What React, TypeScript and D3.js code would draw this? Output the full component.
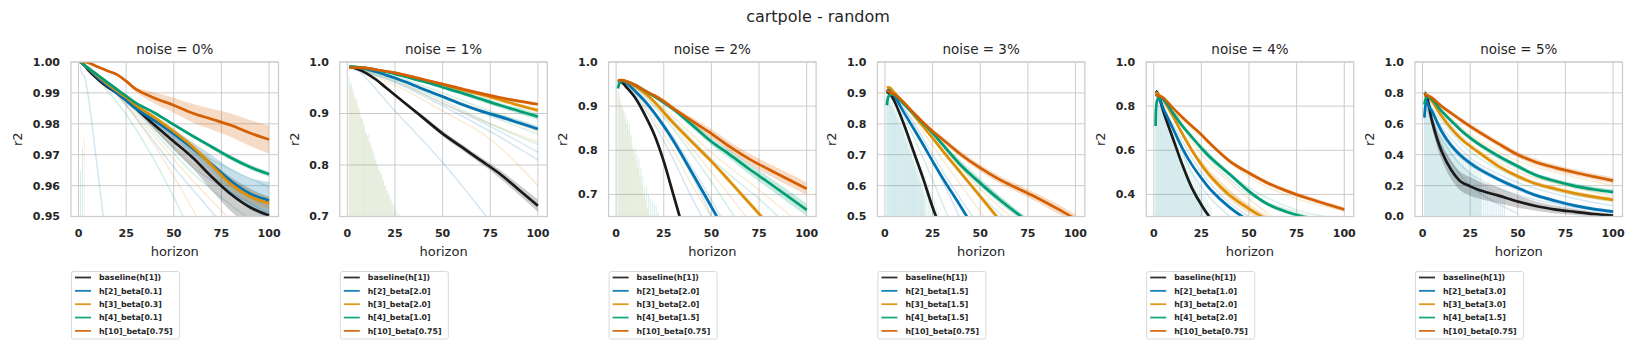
import React, { useEffect, useRef } from 'react';
import * as d3 from 'd3';

const HORIZON = [1, 2, 3, 5, 10, 15, 20, 25, 30, 40, 50, 60, 70, 80, 90, 100];
const SERIES_COLORS = ['#1a1a1a', '#0173b2', '#de8f05', '#029e73', '#d55e00'];
const X_TICKS = [0, 25, 50, 75, 100];

// ---- noise = 0% ----
const noise0Labels = ['baseline(h[1])', 'h[2]_beta[0.1]', 'h[3]_beta[0.3]', 'h[4]_beta[0.1]', 'h[10]_beta[0.75]'];
const noise0Ticks = [0.95, 0.96, 0.97, 0.98, 0.99, 1.0];
const noise0Mean = [
  [1.0, 0.9995, 0.999, 0.9975, 0.9945, 0.992, 0.990, 0.9877, 0.985, 0.9795, 0.9743, 0.969, 0.9628, 0.9572, 0.953, 0.9503],
  [1.0, 0.9995, 0.999, 0.998, 0.995, 0.9925, 0.990, 0.9875, 0.985, 0.981, 0.9767, 0.972, 0.9668, 0.9615, 0.9574, 0.9552],
  [1.0, 0.9995, 0.999, 0.998, 0.9955, 0.993, 0.9907, 0.9885, 0.986, 0.982, 0.9775, 0.9725, 0.9665, 0.9605, 0.9565, 0.9543],
  [1.0, 0.9995, 0.999, 0.998, 0.9958, 0.9935, 0.9912, 0.989, 0.9868, 0.9835, 0.9797, 0.976, 0.9725, 0.969, 0.966, 0.9637],
  [1.0, 1.0, 1.0, 0.9998, 0.9985, 0.9972, 0.996, 0.9938, 0.9912, 0.9883, 0.986, 0.9834, 0.9815, 0.9795, 0.977, 0.9749],
];
const noise0Spread = [
  [0, 0, 0, 0.0001, 0.0002, 0.0003, 0.0004, 0.0006, 0.0008, 0.0015, 0.0025, 0.0035, 0.0045, 0.0055, 0.006, 0.006],
  [0, 0, 0, 0.0001, 0.0002, 0.0003, 0.0004, 0.0005, 0.0006, 0.001, 0.0015, 0.002, 0.003, 0.004, 0.005, 0.006],
  [0, 0, 0, 0.0001, 0.0002, 0.0003, 0.0004, 0.0005, 0.0006, 0.0008, 0.001, 0.0012, 0.0015, 0.0018, 0.002, 0.002],
  [0, 0, 0, 0.0001, 0.0001, 0.0002, 0.0002, 0.0003, 0.0003, 0.0004, 0.0005, 0.0006, 0.0007, 0.0008, 0.0008, 0.0008],
  [0, 0, 0, 0.0001, 0.0002, 0.0003, 0.0004, 0.0005, 0.0008, 0.0018, 0.0024, 0.003, 0.0034, 0.0038, 0.0042, 0.0045],
];
const noise0Faint = [
  { c: 1, pts: [[1, 0.9985], [2, 0.996], [3, 0.9955], [4, 0.993], [6, 0.985], [9, 0.97], [13, 0.95]] },
  { c: 3, pts: [[1, 1], [5, 0.998], [12, 0.993], [25, 0.983], [40, 0.968], [55, 0.95]] },
  { c: 2, pts: [[1, 1], [10, 0.996], [25, 0.986], [45, 0.968], [62, 0.95]] },
  { c: 1, pts: [[1, 1], [10, 0.996], [25, 0.986], [50, 0.966], [72, 0.95]] },
  { c: 2, pts: [[1, 1], [10, 0.996], [30, 0.983], [55, 0.965], [78, 0.95]] },
  { c: 3, pts: [[1, 1], [10, 0.996], [30, 0.984], [60, 0.964], [88, 0.95]] },
  { c: 1, pts: [[1, 1], [10, 0.996], [30, 0.985], [60, 0.966], [100, 0.951]] },
  { c: 3, pts: [[1, 1], [10, 0.996], [30, 0.987], [60, 0.972], [100, 0.9595]] },
  { c: 2, pts: [[1, 1], [10, 0.996], [30, 0.985], [60, 0.967], [100, 0.953]] },
];
const noise0Spikes = [
  { c: 3, from: 1, peaks: [0.965] },
  { c: 1, from: 2, peaks: [0.9725] },
  { c: 2, from: 3, peaks: [0.9755] },
];

// ---- noise = 1% ----
const noise1Labels = ['baseline(h[1])', 'h[2]_beta[2.0]', 'h[3]_beta[2.0]', 'h[4]_beta[1.0]', 'h[10]_beta[0.75]'];
const noise1Ticks = [0.7, 0.8, 0.9, 1.0];
const noise1Mean = [
  [0.990, 0.9895, 0.989, 0.987, 0.978, 0.966, 0.951, 0.936, 0.921, 0.891, 0.861, 0.835, 0.809, 0.783, 0.752, 0.721],
  [0.990, 0.990, 0.990, 0.989, 0.986, 0.981, 0.975, 0.969, 0.962, 0.947, 0.933, 0.918, 0.905, 0.894, 0.882, 0.870],
  [0.990, 0.990, 0.990, 0.990, 0.988, 0.985, 0.982, 0.979, 0.974, 0.965, 0.956, 0.946, 0.937, 0.927, 0.916, 0.906],
  [0.991, 0.991, 0.991, 0.990, 0.988, 0.985, 0.981, 0.977, 0.972, 0.962, 0.951, 0.940, 0.928, 0.916, 0.905, 0.894],
  [0.989, 0.989, 0.989, 0.989, 0.988, 0.985, 0.982, 0.979, 0.975, 0.966, 0.957, 0.948, 0.939, 0.931, 0.924, 0.918],
];
const noise1Spread = [
  [0, 0, 0, 0.0005, 0.001, 0.0015, 0.002, 0.002, 0.003, 0.004, 0.005, 0.006, 0.006, 0.008, 0.01, 0.012],
  [0, 0, 0, 0.0005, 0.001, 0.001, 0.0015, 0.002, 0.002, 0.0025, 0.003, 0.003, 0.0035, 0.004, 0.004, 0.004],
  [0, 0, 0, 0.0005, 0.001, 0.001, 0.0015, 0.002, 0.002, 0.0025, 0.003, 0.003, 0.0035, 0.004, 0.004, 0.004],
  [0, 0, 0, 0.0005, 0.001, 0.001, 0.0015, 0.002, 0.002, 0.003, 0.004, 0.004, 0.005, 0.005, 0.006, 0.006],
  [0, 0, 0, 0.0005, 0.001, 0.001, 0.0015, 0.002, 0.002, 0.0025, 0.003, 0.003, 0.003, 0.003, 0.003, 0.003],
];
const noise1Faint = [
  { c: 1, pts: [[1, 0.99], [5, 0.985], [25, 0.905], [50, 0.805], [73, 0.70]] },
  { c: 2, pts: [[1, 0.99], [25, 0.955], [50, 0.905], [75, 0.85], [100, 0.76]] },
  { c: 1, pts: [[1, 0.99], [25, 0.96], [50, 0.915], [75, 0.865], [100, 0.81]] },
  { c: 3, pts: [[1, 0.99], [25, 0.965], [50, 0.925], [75, 0.88], [100, 0.84]] },
  { c: 1, pts: [[1, 0.99], [25, 0.962], [50, 0.92], [75, 0.875], [100, 0.825]] },
  { c: 2, pts: [[1, 0.99], [25, 0.963], [50, 0.92], [75, 0.88], [100, 0.845]] },
  { c: 3, pts: [[1, 0.99], [25, 0.968], [50, 0.93], [75, 0.895], [100, 0.86]] },
  { c: 3, pts: [[1, 0.99], [25, 0.972], [50, 0.94], [75, 0.905], [100, 0.875]] },
  { c: 2, pts: [[1, 0.99], [25, 0.97], [50, 0.935], [75, 0.90], [100, 0.865]] },
];
const noise1Spikes = [
  { c: 3, from: 1, peaks: [0.97, 0.96, 0.945, 0.93, 0.925, 0.91, 0.895, 0.89, 0.875, 0.86, 0.86, 0.845, 0.83, 0.825, 0.81, 0.80, 0.79, 0.785, 0.77, 0.76, 0.75, 0.745, 0.735, 0.725, 0.72, 0.71, 0.705] },
  { c: 2, from: 1.5, peaks: [0.955, 0.95, 0.935, 0.93, 0.915, 0.90, 0.89, 0.88, 0.865, 0.855, 0.845, 0.835, 0.82, 0.81, 0.80, 0.79, 0.78, 0.77, 0.76, 0.75, 0.74, 0.73, 0.72, 0.71] },
];

// ---- noise = 2% ----
const noise2Labels = ['baseline(h[1])', 'h[2]_beta[2.0]', 'h[3]_beta[2.0]', 'h[4]_beta[1.5]', 'h[10]_beta[0.75]'];
const noise2Ticks = [0.7, 0.8, 0.9, 1.0];
const noise2Mean = [
  [0.955, 0.957, 0.955, 0.945, 0.919, 0.881, 0.836, 0.775, 0.70, 0.55, 0.40, 0.25, 0.10, -0.05, -0.2, -0.35],
  [0.955, 0.957, 0.957, 0.954, 0.934, 0.912, 0.885, 0.855, 0.822, 0.748, 0.672, 0.595, 0.52, 0.45, 0.38, 0.31],
  [0.957, 0.958, 0.958, 0.956, 0.945, 0.93, 0.91, 0.886, 0.862, 0.818, 0.775, 0.728, 0.68, 0.632, 0.585, 0.54],
  [0.94, 0.955, 0.957, 0.956, 0.948, 0.935, 0.922, 0.908, 0.893, 0.857, 0.820, 0.789, 0.757, 0.727, 0.696, 0.665],
  [0.958, 0.959, 0.959, 0.957, 0.948, 0.935, 0.924, 0.911, 0.895, 0.866, 0.838, 0.807, 0.78, 0.757, 0.735, 0.713],
];
const noise2Spread = [
  [0.002, 0.002, 0.002, 0.003, 0.004, 0.005, 0.006, 0.007, 0.008, 0.01, 0.01, 0.01, 0.01, 0.01, 0.01, 0.01],
  [0.002, 0.002, 0.002, 0.003, 0.004, 0.005, 0.005, 0.006, 0.006, 0.007, 0.008, 0.008, 0.008, 0.008, 0.008, 0.008],
  [0.002, 0.002, 0.002, 0.003, 0.003, 0.004, 0.004, 0.005, 0.005, 0.006, 0.006, 0.006, 0.006, 0.006, 0.006, 0.006],
  [0.002, 0.002, 0.002, 0.003, 0.003, 0.004, 0.004, 0.005, 0.005, 0.007, 0.008, 0.01, 0.012, 0.013, 0.014, 0.014],
  [0.002, 0.002, 0.002, 0.003, 0.003, 0.004, 0.005, 0.006, 0.006, 0.008, 0.01, 0.011, 0.012, 0.013, 0.014, 0.014],
];
const noise2Faint = [
  { c: 1, pts: [[1, 0.955], [5, 0.945], [10, 0.925], [20, 0.86], [30, 0.78], [40, 0.69], [45, 0.65]] },
  { c: 2, pts: [[1, 0.955], [10, 0.93], [20, 0.87], [30, 0.80], [40, 0.72], [50, 0.65]] },
  { c: 1, pts: [[1, 0.955], [10, 0.935], [25, 0.86], [40, 0.76], [55, 0.65]] },
  { c: 3, pts: [[1, 0.955], [10, 0.94], [25, 0.875], [45, 0.76], [62, 0.65]] },
  { c: 2, pts: [[1, 0.955], [10, 0.94], [25, 0.88], [50, 0.75], [68, 0.65]] },
  { c: 3, pts: [[1, 0.955], [10, 0.942], [25, 0.89], [50, 0.78], [75, 0.69], [85, 0.65]] },
  { c: 2, pts: [[1, 0.955], [10, 0.945], [25, 0.895], [50, 0.795], [75, 0.71], [92, 0.65]] },
  { c: 1, pts: [[1, 0.955], [10, 0.93], [25, 0.85], [40, 0.74], [50, 0.65]] },
];
const noise2Spikes = [
  { c: 3, from: 1, peaks: [0.935, 0.92, 0.90, 0.89, 0.885, 0.87, 0.86, 0.835, 0.80, 0.805, 0.79, 0.78, 0.76, 0.74, 0.715, 0.72, 0.70, 0.69, 0.685, 0.68, 0.675, 0.66] },
  { c: 2, from: 1.5, peaks: [0.93, 0.91, 0.895, 0.875, 0.86, 0.845, 0.83, 0.81, 0.79, 0.775, 0.76, 0.74, 0.72, 0.70, 0.685, 0.67] },
];

// ---- noise = 3% ----
const noise3Labels = ['baseline(h[1])', 'h[2]_beta[1.5]', 'h[3]_beta[1.5]', 'h[4]_beta[1.5]', 'h[10]_beta[0.75]'];
const noise3Ticks = [0.5, 0.6, 0.7, 0.8, 0.9, 1.0];
const noise3Mean = [
  [0.905, 0.90, 0.895, 0.873, 0.798, 0.711, 0.624, 0.53, 0.45, 0.30, 0.15, 0.0, -0.15, -0.3, -0.45, -0.6],
  [0.905, 0.91, 0.905, 0.89, 0.836, 0.785, 0.733, 0.679, 0.627, 0.53, 0.43, 0.33, 0.23, 0.13, 0.03, -0.07],
  [0.917, 0.918, 0.915, 0.90, 0.868, 0.83, 0.792, 0.754, 0.715, 0.64, 0.565, 0.49, 0.42, 0.35, 0.28, 0.21],
  [0.86, 0.89, 0.895, 0.893, 0.863, 0.833, 0.802, 0.771, 0.735, 0.665, 0.608, 0.555, 0.507, 0.46, 0.415, 0.37],
  [0.908, 0.905, 0.90, 0.895, 0.868, 0.836, 0.805, 0.776, 0.751, 0.70, 0.657, 0.62, 0.59, 0.56, 0.527, 0.492],
];
const noise3Spread = [
  [0.003, 0.003, 0.003, 0.004, 0.005, 0.006, 0.006, 0.006, 0.006, 0.006, 0.006, 0.006, 0.006, 0.006, 0.006, 0.006],
  [0.003, 0.003, 0.003, 0.004, 0.005, 0.005, 0.006, 0.006, 0.006, 0.006, 0.006, 0.006, 0.006, 0.006, 0.006, 0.006],
  [0.003, 0.003, 0.003, 0.004, 0.005, 0.005, 0.006, 0.006, 0.007, 0.008, 0.008, 0.008, 0.008, 0.008, 0.008, 0.008],
  [0.003, 0.003, 0.003, 0.004, 0.005, 0.005, 0.006, 0.007, 0.008, 0.01, 0.011, 0.012, 0.012, 0.012, 0.012, 0.012],
  [0.003, 0.003, 0.003, 0.004, 0.005, 0.006, 0.007, 0.008, 0.009, 0.01, 0.011, 0.012, 0.013, 0.014, 0.015, 0.015],
];
const noise3Faint = [
  { c: 1, pts: [[1, 0.9], [10, 0.845], [25, 0.68], [39, 0.5]] },
  { c: 2, pts: [[1, 0.91], [10, 0.86], [25, 0.73], [40, 0.6], [52, 0.5]] },
  { c: 3, pts: [[1, 0.9], [10, 0.86], [25, 0.75], [45, 0.6], [62, 0.5]] },
  { c: 1, pts: [[1, 0.9], [10, 0.85], [25, 0.70], [35, 0.6], [46, 0.5]] },
  { c: 2, pts: [[1, 0.9], [10, 0.865], [25, 0.76], [50, 0.59], [66, 0.5]] },
  { c: 3, pts: [[1, 0.9], [10, 0.82], [20, 0.69], [33, 0.5]] },
  { c: 3, pts: [[1, 0.9], [10, 0.865], [25, 0.765], [50, 0.62], [70, 0.51]] },
];
const noise3Spikes = [
  { c: 3, from: 1, peaks: [0.89, 0.885, 0.88, 0.87, 0.86, 0.845, 0.835, 0.82, 0.81, 0.80, 0.785, 0.77, 0.76, 0.745, 0.725, 0.71, 0.69, 0.675, 0.66, 0.65, 0.63, 0.615, 0.60, 0.58, 0.565, 0.55, 0.53, 0.515] },
  { c: 1, from: 1.5, peaks: [0.88, 0.87, 0.86, 0.85, 0.835, 0.82, 0.80, 0.79, 0.775, 0.755, 0.74, 0.72, 0.70, 0.685, 0.665, 0.645, 0.625, 0.61, 0.59, 0.57] },
];

// ---- noise = 4% ----
const noise4Labels = ['baseline(h[1])', 'h[2]_beta[1.0]', 'h[3]_beta[2.0]', 'h[4]_beta[2.0]', 'h[10]_beta[0.75]'];
const noise4Ticks = [0.4, 0.6, 0.8, 1.0];
const noise4Mean = [
  [0.868, 0.86, 0.84, 0.777, 0.656, 0.535, 0.43, 0.353, 0.29, 0.2, 0.12, 0.05, 0.0, -0.05, -0.1, -0.15],
  [0.855, 0.85, 0.835, 0.79, 0.70, 0.61, 0.535, 0.474, 0.42, 0.34, 0.28, 0.23, 0.19, 0.16, 0.13, 0.1],
  [0.862, 0.858, 0.85, 0.83, 0.755, 0.675, 0.60, 0.535, 0.48, 0.395, 0.335, 0.285, 0.25, 0.22, 0.19, 0.17],
  [0.71, 0.83, 0.835, 0.83, 0.77, 0.71, 0.66, 0.61, 0.565, 0.49, 0.414, 0.355, 0.32, 0.295, 0.27, 0.25],
  [0.853, 0.85, 0.845, 0.838, 0.792, 0.75, 0.71, 0.671, 0.627, 0.55, 0.497, 0.451, 0.415, 0.385, 0.358, 0.332],
];
const noise4Spread = [
  [0.005, 0.005, 0.005, 0.006, 0.007, 0.008, 0.008, 0.008, 0.008, 0.008, 0.008, 0.008, 0.008, 0.008, 0.008, 0.008],
  [0.005, 0.005, 0.005, 0.006, 0.007, 0.008, 0.008, 0.008, 0.008, 0.008, 0.008, 0.008, 0.008, 0.008, 0.008, 0.008],
  [0.005, 0.005, 0.005, 0.006, 0.008, 0.01, 0.012, 0.014, 0.016, 0.02, 0.02, 0.018, 0.015, 0.012, 0.01, 0.01],
  [0.01, 0.008, 0.006, 0.006, 0.007, 0.008, 0.008, 0.009, 0.01, 0.01, 0.01, 0.01, 0.01, 0.01, 0.01, 0.01],
  [0.005, 0.005, 0.005, 0.006, 0.006, 0.007, 0.007, 0.008, 0.008, 0.009, 0.01, 0.01, 0.01, 0.01, 0.01, 0.01],
];
const noise4Faint = [
  { c: 2, pts: [[1, 0.86], [10, 0.78], [25, 0.58], [50, 0.38], [62, 0.3]] },
  { c: 3, pts: [[1, 0.85], [10, 0.78], [25, 0.60], [50, 0.40], [75, 0.32], [82, 0.3]] },
  { c: 1, pts: [[1, 0.85], [10, 0.72], [25, 0.50], [40, 0.36], [50, 0.3]] },
  { c: 2, pts: [[1, 0.85], [10, 0.75], [25, 0.55], [50, 0.34], [58, 0.3]] },
  { c: 2, pts: [[1, 0.85], [25, 0.66], [50, 0.48], [75, 0.38], [100, 0.33]] },
  { c: 1, pts: [[1, 0.85], [10, 0.70], [20, 0.5], [30, 0.38], [40, 0.3]] },
  { c: 3, pts: [[1, 0.85], [10, 0.77], [25, 0.62], [50, 0.43], [75, 0.33], [90, 0.3]] },
];
const noise4Spikes = [
  { c: 3, from: 1, peaks: [0.83, 0.83, 0.82, 0.81, 0.80, 0.78, 0.76, 0.74, 0.72, 0.70, 0.68, 0.66, 0.64, 0.62, 0.60, 0.58, 0.56, 0.54, 0.52, 0.50, 0.485, 0.47, 0.45, 0.44, 0.42, 0.405, 0.39, 0.375, 0.36, 0.345] },
  { c: 1, from: 1.5, peaks: [0.82, 0.81, 0.80, 0.78, 0.76, 0.74, 0.72, 0.695, 0.67, 0.65, 0.63, 0.605, 0.585, 0.56, 0.54, 0.52, 0.50, 0.48, 0.46, 0.445, 0.43, 0.41, 0.395, 0.38, 0.36] },
];

// ---- noise = 5% ----
const noise5Labels = ['baseline(h[1])', 'h[2]_beta[3.0]', 'h[3]_beta[3.0]', 'h[4]_beta[1.5]', 'h[10]_beta[0.75]'];
const noise5Ticks = [0.0, 0.2, 0.4, 0.6, 0.8, 1.0];
const noise5Mean = [
  [0.80, 0.78, 0.74, 0.617, 0.422, 0.303, 0.227, 0.195, 0.17, 0.135, 0.097, 0.066, 0.045, 0.03, 0.016, 0.006],
  [0.64, 0.75, 0.72, 0.68, 0.552, 0.46, 0.395, 0.346, 0.305, 0.24, 0.184, 0.135, 0.10, 0.07, 0.048, 0.032],
  [0.79, 0.79, 0.78, 0.747, 0.65, 0.57, 0.505, 0.455, 0.41, 0.325, 0.26, 0.21, 0.178, 0.15, 0.127, 0.108],
  [0.725, 0.77, 0.77, 0.758, 0.682, 0.62, 0.56, 0.509, 0.465, 0.39, 0.325, 0.265, 0.228, 0.197, 0.175, 0.158],
  [0.786, 0.785, 0.78, 0.768, 0.714, 0.67, 0.625, 0.584, 0.545, 0.47, 0.40, 0.35, 0.315, 0.285, 0.258, 0.232],
];
const noise5Spread = [
  [0.02, 0.03, 0.035, 0.045, 0.055, 0.06, 0.06, 0.06, 0.055, 0.05, 0.04, 0.03, 0.025, 0.02, 0.015, 0.01],
  [0.02, 0.02, 0.02, 0.02, 0.02, 0.02, 0.02, 0.02, 0.018, 0.016, 0.015, 0.014, 0.013, 0.012, 0.012, 0.012],
  [0.01, 0.01, 0.01, 0.012, 0.014, 0.015, 0.015, 0.015, 0.015, 0.015, 0.015, 0.015, 0.015, 0.015, 0.015, 0.015],
  [0.01, 0.01, 0.01, 0.012, 0.014, 0.015, 0.015, 0.015, 0.015, 0.015, 0.015, 0.015, 0.015, 0.015, 0.015, 0.015],
  [0.01, 0.01, 0.01, 0.012, 0.014, 0.015, 0.016, 0.017, 0.018, 0.018, 0.019, 0.02, 0.02, 0.02, 0.02, 0.02],
];
const noise5Faint = [
  { c: 2, pts: [[1, 0.79], [10, 0.66], [25, 0.47], [50, 0.29], [75, 0.2], [100, 0.13]] },
  { c: 3, pts: [[1, 0.78], [10, 0.68], [25, 0.5], [50, 0.31], [75, 0.22], [100, 0.17]] },
  { c: 1, pts: [[1, 0.75], [10, 0.58], [25, 0.38], [50, 0.22], [75, 0.13], [100, 0.07]] },
  { c: 3, pts: [[1, 0.78], [10, 0.62], [25, 0.42], [50, 0.25], [75, 0.15], [100, 0.10]] },
  { c: 2, pts: [[1, 0.79], [10, 0.70], [25, 0.53], [50, 0.36], [75, 0.27], [100, 0.2]] },
  { c: 1, pts: [[1, 0.75], [10, 0.5], [25, 0.28], [50, 0.14], [75, 0.07], [100, 0.03]] },
  { c: 1, pts: [[1, 0.75], [10, 0.45], [25, 0.2], [40, 0.08], [50, 0.02]] },
];
const noise5Spikes = [
  { c: 1, from: 1, peaks: [0.78, 0.77, 0.75, 0.73, 0.70, 0.67, 0.64, 0.61, 0.58, 0.55, 0.52, 0.495, 0.47, 0.445, 0.42, 0.40, 0.385, 0.37, 0.355, 0.34, 0.33, 0.315, 0.305, 0.29, 0.28, 0.27, 0.26, 0.25, 0.24, 0.23, 0.22, 0.215, 0.205, 0.20, 0.19, 0.18, 0.175, 0.165, 0.16, 0.15, 0.14, 0.13, 0.12] },
  { c: 3, from: 1.5, peaks: [0.77, 0.76, 0.74, 0.72, 0.70, 0.68, 0.65, 0.62, 0.60, 0.57, 0.545, 0.52, 0.50, 0.48, 0.46, 0.44, 0.425, 0.41, 0.395, 0.38, 0.37, 0.355, 0.345, 0.335, 0.325, 0.315, 0.305, 0.295, 0.285, 0.275] },
];

const PANELS = [
  { title: 'noise = 0%', ticks: noise0Ticks, digits: 2, mean: noise0Mean, spread: noise0Spread, faint: noise0Faint, spikes: noise0Spikes, labels: noise0Labels },
  { title: 'noise = 1%', ticks: noise1Ticks, digits: 1, mean: noise1Mean, spread: noise1Spread, faint: noise1Faint, spikes: noise1Spikes, labels: noise1Labels },
  { title: 'noise = 2%', ticks: noise2Ticks, digits: 1, bottom: 0.65, mean: noise2Mean, spread: noise2Spread, faint: noise2Faint, spikes: noise2Spikes, labels: noise2Labels },
  { title: 'noise = 3%', ticks: noise3Ticks, digits: 1, mean: noise3Mean, spread: noise3Spread, faint: noise3Faint, spikes: noise3Spikes, labels: noise3Labels },
  { title: 'noise = 4%', ticks: noise4Ticks, digits: 1, bottom: 0.3, mean: noise4Mean, spread: noise4Spread, faint: noise4Faint, spikes: noise4Spikes, labels: noise4Labels },
  { title: 'noise = 5%', ticks: noise5Ticks, digits: 1, mean: noise5Mean, spread: noise5Spread, faint: noise5Faint, spikes: noise5Spikes, labels: noise5Labels },
];

const WIDTH = 1634;
const HEIGHT = 349;
const FONT = '"DejaVu Sans", Verdana, sans-serif';
const TEXT = '#262626';
const GRID = '#cccccc';

export default function App() {
  const svgRef = useRef<SVGSVGElement>(null);

  useEffect(() => {
    const svg = d3.select(svgRef.current);
    svg.selectAll('*').remove();

    const left0 = 71, step = 268.8, pw = 207.5, top = 62, bottom = 216.5;

    svg.append('rect').attr('width', WIDTH).attr('height', HEIGHT).attr('fill', '#fff');

    svg.append('text')
      .attr('x', 818).attr('y', 22)
      .attr('text-anchor', 'middle')
      .style('font-family', FONT).style('font-size', '16px').style('fill', TEXT)
      .text('cartpole - random');

    PANELS.forEach((p, pi) => {
      const left = left0 + pi * step;
      const yMin = p.bottom !== undefined ? p.bottom : p.ticks[0];
      const yMax = p.ticks[p.ticks.length - 1];
      const x = d3.scaleLinear().domain([-3.95, 104.95]).range([left, left + pw]);
      const y = d3.scaleLinear().domain([yMin, yMax]).range([bottom, top]);
      const g = svg.append('g');

      const clipId = `clip-${pi}`;
      svg.append('defs').append('clipPath').attr('id', clipId)
        .append('rect').attr('x', left).attr('y', top).attr('width', pw).attr('height', bottom - top);

      // grid
      g.selectAll('.vgrid').data(X_TICKS).enter().append('line')
        .attr('x1', d => x(d)).attr('x2', d => x(d)).attr('y1', top).attr('y2', bottom)
        .attr('stroke', GRID).attr('stroke-width', 1);
      g.selectAll('.hgrid').data(p.ticks).enter().append('line')
        .attr('x1', left).attr('x2', left + pw).attr('y1', d => y(d)).attr('y2', d => y(d))
        .attr('stroke', GRID).attr('stroke-width', 1);

      const data = g.append('g').attr('clip-path', `url(#${clipId})`);
      const smooth = d3.curveCatmullRom.alpha(0.5);
      const line = d3.line<number[]>().x(d => x(d[0])).y(d => y(d[1])).curve(smooth);
      const floor = yMin - (yMax - yMin);

      // oscillating runs near the start, drawn as thin spikes
      p.spikes.forEach(s => {
        const path = d3.path();
        s.peaks.forEach((v, i) => {
          const hx = x(s.from + i);
          path.moveTo(hx, y(floor));
          path.lineTo(hx, y(v));
        });
        data.append('path').attr('d', path.toString())
          .attr('fill', 'none').attr('stroke', SERIES_COLORS[s.c])
          .attr('stroke-width', 0.8).attr('stroke-opacity', 0.2);
      });

      // other configurations, faint
      p.faint.forEach(f => {
        data.append('path').attr('d', line(f.pts))
          .attr('fill', 'none').attr('stroke', SERIES_COLORS[f.c])
          .attr('stroke-width', 1.5).attr('stroke-opacity', 0.17);
      });

      // confidence bands
      p.mean.forEach((m, si) => {
        const rows = HORIZON.map((h, i) => [h, m[i], p.spread[si][i]]);
        const area = d3.area<number[]>()
          .x(d => x(d[0])).y0(d => y(d[1] - d[2])).y1(d => y(d[1] + d[2]))
          .curve(smooth);
        data.append('path').attr('d', area(rows))
          .attr('fill', SERIES_COLORS[si]).attr('fill-opacity', 0.22);
      });

      // mean lines
      p.mean.forEach((m, si) => {
        const rows = HORIZON.map((h, i) => [h, m[i]]);
        data.append('path').attr('d', line(rows))
          .attr('fill', 'none').attr('stroke', SERIES_COLORS[si])
          .attr('stroke-width', 2.7).attr('stroke-linejoin', 'round');
      });

      // frame
      g.append('rect').attr('x', left).attr('y', top).attr('width', pw).attr('height', bottom - top)
        .attr('fill', 'none').attr('stroke', GRID).attr('stroke-width', 1.25);

      // tick labels
      g.selectAll('.xt').data(X_TICKS).enter().append('text')
        .attr('x', d => x(d)).attr('y', 237)
        .attr('text-anchor', 'middle')
        .style('font-family', FONT).style('font-size', '11px').style('font-weight', 'bold').style('fill', TEXT)
        .text(d => String(d));
      g.selectAll('.yt').data(p.ticks).enter().append('text')
        .attr('x', left - 11).attr('y', d => y(d)).attr('dy', '0.36em')
        .attr('text-anchor', 'end')
        .style('font-family', FONT).style('font-size', '11px').style('font-weight', 'bold').style('fill', TEXT)
        .text(d => d.toFixed(p.digits));

      // axis labels and title
      g.append('text')
        .attr('x', left + pw / 2).attr('y', 256)
        .attr('text-anchor', 'middle')
        .style('font-family', FONT).style('font-size', '13px').style('fill', TEXT)
        .text('horizon');
      const labelW = ((p.digits + 1) * 0.696 + 0.38) * 11;
      const ylx = left - 12 - labelW - 14.3;
      g.append('text')
        .attr('transform', `translate(${ylx},${(top + bottom) / 2}) rotate(-90)`)
        .attr('dy', '0.35em')
        .attr('text-anchor', 'middle')
        .style('font-family', FONT).style('font-size', '13px').style('fill', TEXT)
        .text('r2');
      g.append('text')
        .attr('x', left + pw / 2).attr('y', 54)
        .attr('text-anchor', 'middle')
        .style('font-family', FONT).style('font-size', '13.5px').style('fill', TEXT)
        .text(p.title);

      // legend
      const lg = g.append('g').attr('transform', `translate(${left},271)`);
      lg.append('rect').attr('x', 0.5).attr('y', 0.5).attr('width', 108).attr('height', 67.5)
        .attr('rx', 2).attr('fill', '#fff').attr('stroke', '#d9d9d9').attr('stroke-width', 1);
      p.labels.forEach((lab, li) => {
        const ly = 6.5 + li * 13.35;
        lg.append('line').attr('x1', 4).attr('x2', 20).attr('y1', ly).attr('y2', ly)
          .attr('stroke', SERIES_COLORS[li]).attr('stroke-width', 1.8).attr('stroke-opacity', 0.9);
        lg.append('text').attr('x', 28).attr('y', ly).attr('dy', '0.36em')
          .style('font-family', FONT).style('font-size', '7.8px').style('font-weight', 'bold').style('fill', TEXT)
          .text(lab);
      });
    });
  }, []);

  return (
    <svg
      ref={svgRef}
      width={WIDTH}
      height={HEIGHT}
      style={{ position: 'absolute', left: 0, top: 0, display: 'block' }}
    />
  );
}
